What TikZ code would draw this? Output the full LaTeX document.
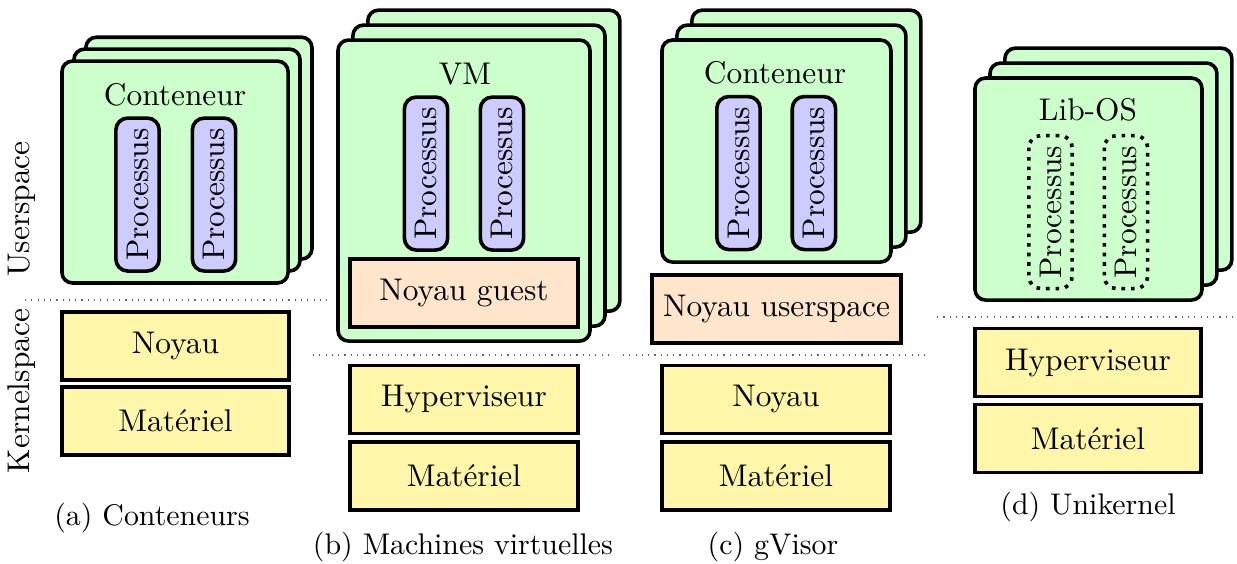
\documentclass[tikz,border=0pt]{standalone}
\usepackage{fontspec}
\usepackage{xcolor}
\usepackage{tikz}
\usetikzlibrary{shadows,positioning}

\definecolor{vertconteneur}{RGB}{204,255,204}
\definecolor{bleuprocessus}{RGB}{204,204,255}
\definecolor{orangenoyau}{RGB}{255,229,204}
\definecolor{jaunecouche}{RGB}{255,246,170}

\tikzset{
	every node/.style={font=\fontsize{10.5}{12.6}\selectfont},
	conteneur/.style={draw=black, very thick, fill=vertconteneur, rounded corners=3.5pt, inner sep=0pt},
	pile/.style 2 args={
		general shadow={shadow xshift=#2, shadow yshift=#2, fill=vertconteneur, draw=black, very thick},
		general shadow={shadow xshift=#1, shadow yshift=#1, fill=vertconteneur, draw=black, very thick}},
	processus/.style={draw=black, very thick, fill=bleuprocessus, rounded corners=4pt, rotate=90,
		minimum width=1.8cm, minimum height=0.51cm, inner sep=0pt},
	processuslib/.style={processus, fill=none, dotted},
	couche/.style={draw=black, very thick, fill=jaunecouche, minimum width=2.67cm, minimum height=0.8cm},
	noyauinvite/.style={couche, fill=orangenoyau},
	legende/.style={font=\fontsize{10}{12}\selectfont},
	separation/.style={draw=black!60, line width=0.4pt, dash pattern=on 0.4pt off 1.7pt}
}

\begin{document}
\begin{tikzpicture}
	\useasboundingbox (0,0) rectangle (14.553,6.624);
	
	% (a) conteneurs
	\node[rotate=90] (us) at (0.259,4.165) {Userspace};
	\node[rotate=90] (ks) at (0.259,2.024) {Kernelspace};
	\node[conteneur, pile={4pt}{8pt}, minimum width=2.66cm, minimum height=2.61cm] (ca) at (2.059,4.6) {};
	\node (tca) at (2.059,5.506) {Conteneur};
	\node[processus] (pa1) at (1.618,4.335) {Processus};
	\node[processus] (pa2) at (2.518,4.335) {Processus};
	\draw[separation] (0.294,3.094) -- (3.882,3.094);
	\node[couche] (na) at (2.065,2.553) {Noyau};
	\node[couche] (ma) at (2.065,1.671) {Matériel};
	\node[legende] (capa) at (1.788,0.529) {(a) Conteneurs};
	
	% (b) machines virtuelles
	\node[conteneur, pile={5pt}{10pt}, minimum width=2.965cm, minimum height=3.541cm] (vm) at (5.459,4.382) {};
	\node (tvm) at (5.471,5.753) {VM};
	\node[processus] (pb1) at (5.012,4.582) {Processus};
	\node[processus] (pb2) at (5.906,4.582) {Processus};
	\node[noyauinvite, minimum width=2.68cm] (ng) at (5.459,3.176) {Noyau guest};
	\draw[separation] (3.682,2.447) -- (7.212,2.447);
	\node[couche, minimum width=2.68cm] (hb) at (5.459,1.924) {Hyperviseur};
	\node[couche, minimum width=2.68cm] (mb) at (5.459,1.024) {Matériel};
	\node[legende] (capb) at (5.447,0.188) {(b) Machines virtuelles};
	
	% (c) gVisor
	\node[conteneur, pile={5pt}{10pt}, minimum width=2.694cm, minimum height=2.612cm] (cc) at (9.135,4.847) {};
	\node (tcc) at (9.118,5.765) {Conteneur};
	\node[processus] (pc1) at (8.688,4.588) {Processus};
	\node[processus] (pc2) at (9.576,4.588) {Processus};
	\node[noyauinvite, minimum width=2.93cm] (nu) at (9.135,2.988) {Noyau userspace};
	\draw[separation] (7.329,2.447) -- (10.882,2.447);
	\node[couche, minimum width=2.68cm] (nc) at (9.129,1.924) {Noyau};
	\node[couche, minimum width=2.68cm] (mc) at (9.129,1.024) {Matériel};
	\node[legende] (capc) at (9.094,0.188) {(c) gVisor};
	
	% (d) unikernel
	\node[conteneur, pile={5pt}{10pt}, minimum width=2.67cm, minimum height=2.612cm] (lo) at (12.806,4.4) {};
	\node (tlo) at (12.8,5.329) {Lib-OS};
	\node[processuslib] (pd1) at (12.359,4.129) {Processus};
	\node[processuslib] (pd2) at (13.247,4.129) {Processus};
	\draw[separation] (11.024,2.894) -- (14.553,2.894);
	\node[couche, minimum width=2.66cm] (hd) at (12.8,2.359) {Hyperviseur};
	\node[couche, minimum width=2.66cm] (md) at (12.8,1.465) {Matériel};
	\node[legende] (capd) at (12.8,0.659) {(d) Unikernel};
\end{tikzpicture}
\end{document}
